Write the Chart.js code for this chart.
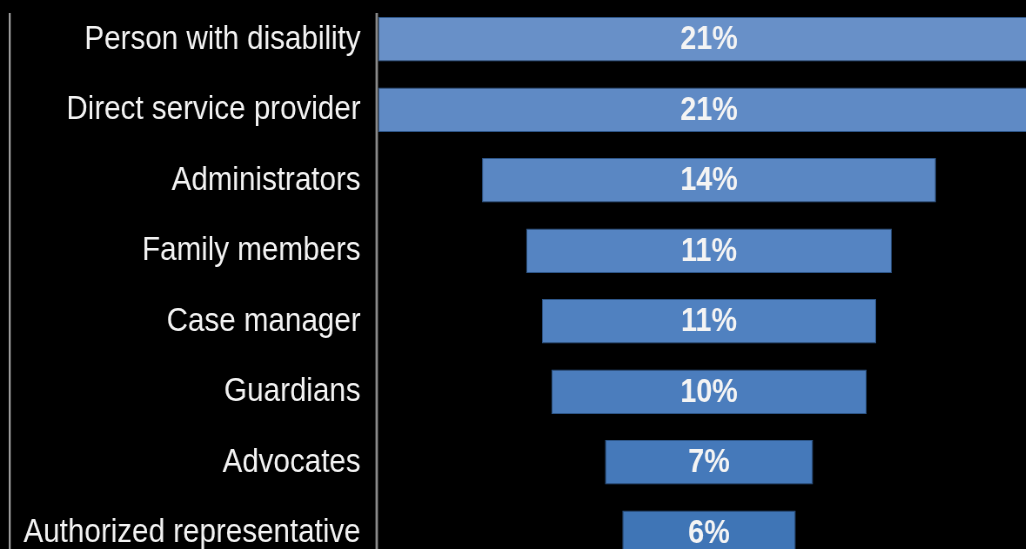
<!DOCTYPE html>
<html>
<head>
<meta charset="utf-8">
<script src="https://cdn.jsdelivr.net/npm/chart.js@4"></script>
<style>
  html, body { margin: 0; padding: 0; background: #000; overflow: hidden; width: 1026px; height: 549px; }
  /* the source picture is squeezed sideways, so the whole chart is too */
  #wrap { position: absolute; left: 0; top: 0; width: 1220px; height: 570px; transform: scaleX(0.87); transform-origin: 0 0; }
</style>
</head>
<body>
<div id="wrap"><canvas id="funnel" width="1220" height="570"></canvas></div>
<script>
const roles = [
  'Person with disability',
  'Direct service provider',
  'Administrators',
  'Family members',
  'Case manager',
  'Guardians',
  'Advocates',
  'Authorized representative'
]
const shares      = [21, 21, 14.4, 11.6, 10.6, 10.0, 6.6, 5.5]
const shareLabels = ['21%', '21%', '14%', '11%', '11%', '10%', '7%', '6%']
const barColors   = ['#6890c8', '#5f8ac5', '#5a87c3', '#5584c2', '#5081c0', '#4b7dbd', '#4579ba', '#3f75b6']

const SX = 0.87
const widest = Math.max(...shares)

// funnel: each bar floats centred on the widest one
const spans = shares.map(v => [(widest - v) / 2, (widest + v) / 2])

const frameLines = {
  id: 'frameLines',
  afterDraw(chart) {
    const { ctx, chartArea } = chart
    ctx.save()
    ctx.lineWidth = 2
    ctx.strokeStyle = '#b4b4b4'
    ctx.beginPath()
    ctx.moveTo(11.2, 13)
    ctx.lineTo(11.2, chart.height)
    ctx.stroke()
    ctx.lineWidth = 2.8
    ctx.strokeStyle = '#8a8a8a'
    ctx.beginPath()
    ctx.moveTo(chartArea.left - 1.5, 13)
    ctx.lineTo(chartArea.left - 1.5, chart.height)
    ctx.stroke()
    ctx.restore()
  }
}

const barText = {
  id: 'barText',
  afterDatasetsDraw(chart) {
    const { ctx } = chart
    ctx.save()
    ctx.fillStyle = '#f4f4f4'
    ctx.font = 'bold 33px "Liberation Sans", Arial, sans-serif'
    ctx.textAlign = 'center'
    ctx.textBaseline = 'middle'
    chart.getDatasetMeta(0).data.forEach((bar, i) => {
      ctx.fillText(shareLabels[i], (bar.x + bar.base) / 2, bar.y + 1)
    })
    ctx.restore()
  }
}

new Chart(document.getElementById('funnel'), {
  type: 'bar',
  data: {
    labels: roles,
    datasets: [{
      data: spans,
      backgroundColor: barColors,
      borderColor: '#2e5688',
      borderWidth: 1,
      borderSkipped: false,
      barPercentage: 0.63,
      categoryPercentage: 1
    }]
  },
  options: {
    indexAxis: 'y',
    responsive: false,
    animation: false,
    layout: { padding: { top: 4, bottom: 2, right: 24.6, left: 0 } },
    plugins: { legend: { display: false }, tooltip: { enabled: false } },
    scales: {
      x: { display: false, min: 0, max: widest },
      y: {
        afterFit(scale) {
          scale.width = 378 / SX
          // labels sit inside their slots, no extra room above/below
          scale.paddingTop = 0
          scale.paddingBottom = 0
        },
        border: { display: false },
        grid: { display: false, drawTicks: false },
        ticks: {
          color: '#f2f2f2',
          padding: 20,
          font: { family: '"Liberation Sans", Arial, sans-serif', size: 34 }
        }
      }
    }
  },
  plugins: [frameLines, barText]
})
</script>
</body>
</html>
